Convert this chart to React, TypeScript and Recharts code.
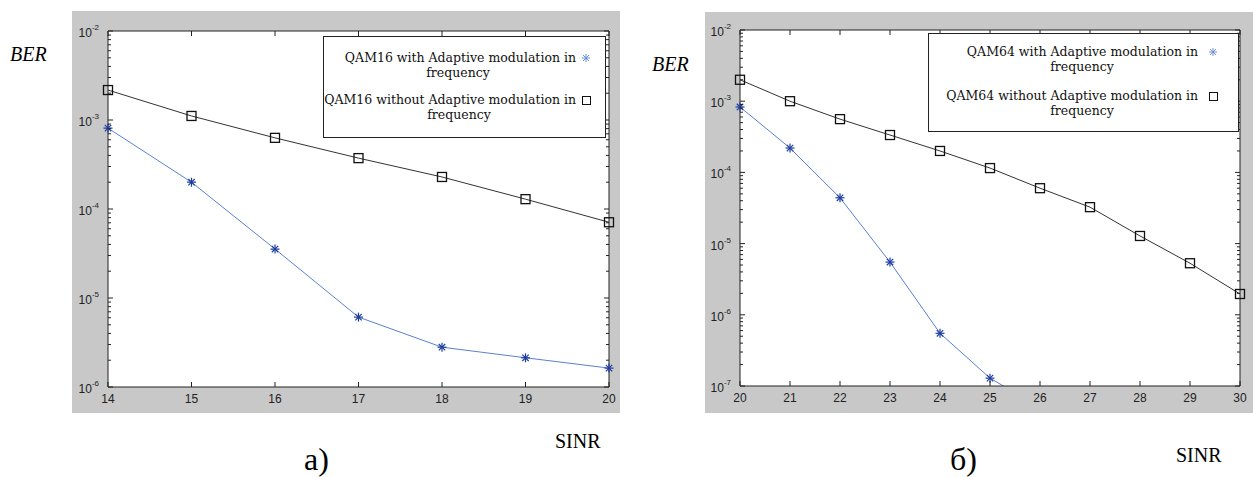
import { CartesianGrid, Line, LineChart, XAxis, YAxis } from "recharts"

// panel a) QAM16
const sinrA = [14, 15, 16, 17, 18, 19, 20]
const qam16Adaptive = [8.1e-4, 2.0e-4, 3.55e-5, 6.1e-6, 2.8e-6, 2.13e-6, 1.63e-6]
const qam16Fixed = [2.17e-3, 1.11e-3, 6.3e-4, 3.73e-4, 2.29e-4, 1.29e-4, 7.1e-5]
const expA = [-6, -5, -4, -3, -2]

// panel б) QAM64
const sinrB = [20, 21, 22, 23, 24, 25, 26, 27, 28, 29, 30]
const qam64Adaptive = [8.3e-4, 2.2e-4, 4.4e-5, 5.5e-6, 5.5e-7, 1.29e-7, 5e-8, null, null, null, null]
const qam64Fixed = [2.0e-3, 1.0e-3, 5.6e-4, 3.35e-4, 2.0e-4, 1.15e-4, 6.0e-5, 3.25e-5, 1.28e-5, 5.3e-6, 1.96e-6]
const expB = [-7, -6, -5, -4, -3, -2]

const GRAY = "#c8c8c8"
const BLUE_LINE = "#5b80d0"
const BLUE_MARK = "#1d3c9e"
const BLACK = "#222"
const tickFont = "'Liberation Sans', Arial, sans-serif"
const serif = "'Liberation Serif', 'Times New Roman', serif"

function logTicks(exps: number[]) {
  const out: number[] = []
  exps.forEach((e, i) => {
    out.push(Math.pow(10, e))
    if (i < exps.length - 1) {
      for (let k = 2; k <= 9; k++) out.push(k * Math.pow(10, e))
    }
  })
  return out
}

function isDecade(v: number) {
  const l = Math.log10(v)
  return Math.abs(l - Math.round(l)) < 1e-6
}

function StarDot(props: any) {
  const { cx, cy, index } = props
  if (cx == null || cy == null || !isFinite(cy)) return <g key={index} />
  const r = 4.5
  const d = 3.2
  return (
    <g key={index} stroke={BLUE_MARK} strokeWidth={1.2}>
      <line x1={cx - r} y1={cy} x2={cx + r} y2={cy} />
      <line x1={cx} y1={cy - r} x2={cx} y2={cy + r} />
      <line x1={cx - d} y1={cy - d} x2={cx + d} y2={cy + d} />
      <line x1={cx - d} y1={cy + d} x2={cx + d} y2={cy - d} />
    </g>
  )
}

function SquareDot(props: any) {
  const { cx, cy, index } = props
  if (cx == null || cy == null || !isFinite(cy)) return <g key={index} />
  return <rect key={index} x={cx - 4.5} y={cy - 4.5} width={9} height={9} fill="none" stroke="#111" strokeWidth={1.3} />
}

function BottomTick(props: any) {
  const { x, y, payload } = props
  return (
    <g>
      <line x1={x} y1={y} x2={x} y2={y - 5} stroke={BLACK} />
      <text x={x} y={y + 16} textAnchor="middle" fontFamily={tickFont} fontSize={12} fill="#222">
        {payload.value}
      </text>
    </g>
  )
}

function TopTick(props: any) {
  const { x, y } = props
  return <line x1={x} y1={y} x2={x} y2={y + 5} stroke={BLACK} />
}

function LeftTick(props: any) {
  const { x, y, payload } = props
  const major = isDecade(payload.value)
  const exp = Math.round(Math.log10(payload.value))
  return (
    <g>
      <line x1={x} y1={y} x2={x + (major ? 5 : 3)} y2={y} stroke={BLACK} />
      {major && (
        <text x={x - 9} y={y + 6} textAnchor="end" fontFamily={tickFont} fontSize={12} fill="#222">
          10
          <tspan dx={0} dy={-7} fontSize={8}>
            {exp}
          </tspan>
        </text>
      )}
    </g>
  )
}

function RightTick(props: any) {
  const { x, y, payload } = props
  const major = isDecade(payload.value)
  return <line x1={x} y1={y} x2={x - (major ? 5 : 3)} y2={y} stroke={BLACK} />
}

interface PanelProps {
  sinr: number[]
  adaptive: (number | null)[]
  fixed: number[]
  exps: number[]
  width: number
  height: number
  pad: { top: number; right: number; bottom: number; left: number }
}

function Panel({ sinr, adaptive, fixed, exps, width, height, pad }: PanelProps) {
  const data = sinr.map((x, i) => ({ x, adaptive: adaptive[i], fixed: fixed[i] }))
  const yTicks = logTicks(exps)
  const yDomain = [Math.pow(10, exps[0]), Math.pow(10, exps[exps.length - 1])]
  const xDomain = [sinr[0], sinr[sinr.length - 1]]
  return (
    <LineChart width={width} height={height} data={data} margin={{ top: 0, right: 0, bottom: 0, left: 0 }}>
      <CartesianGrid horizontal={false} vertical={false} fill="#fff" stroke="none" />
      <XAxis
        xAxisId="b"
        dataKey="x"
        type="number"
        domain={xDomain}
        ticks={sinr}
        height={pad.bottom}
        tickSize={0}
        tickMargin={0}
        axisLine={{ stroke: BLACK }}
        tickLine={false}
        tick={BottomTick}
        interval={0}
      />
      <XAxis
        xAxisId="t"
        orientation="top"
        dataKey="x"
        type="number"
        domain={xDomain}
        ticks={sinr}
        height={pad.top}
        tickSize={0}
        tickMargin={0}
        axisLine={{ stroke: BLACK }}
        tickLine={false}
        tick={TopTick}
        interval={0}
      />
      <YAxis
        yAxisId="l"
        type="number"
        scale="log"
        domain={yDomain}
        allowDataOverflow
        ticks={yTicks}
        width={pad.left}
        tickSize={0}
        tickMargin={0}
        axisLine={{ stroke: BLACK }}
        tickLine={false}
        tick={LeftTick}
        interval={0}
      />
      <YAxis
        yAxisId="r"
        orientation="right"
        type="number"
        scale="log"
        domain={yDomain}
        allowDataOverflow
        ticks={yTicks}
        width={pad.right}
        tickSize={0}
        tickMargin={0}
        axisLine={{ stroke: BLACK }}
        tickLine={false}
        tick={RightTick}
        interval={0}
      />
      <Line
        xAxisId="b"
        yAxisId="l"
        dataKey="fixed"
        stroke="#333"
        strokeWidth={1}
        dot={SquareDot}
        activeDot={false}
        isAnimationActive={false}
      />
      <Line
        xAxisId="b"
        yAxisId="l"
        dataKey="adaptive"
        stroke={BLUE_LINE}
        strokeWidth={1}
        dot={StarDot}
        activeDot={false}
        isAnimationActive={false}
      />
    </LineChart>
  )
}

function LegendStar({ left, top }: { left: number; top: number }) {
  return (
    <svg style={{ position: "absolute", left: left - 5, top: top - 5 }} width={10} height={10}>
      <g stroke="#6f8fd8" strokeWidth={1}>
        <line x1={1} y1={5} x2={9} y2={5} />
        <line x1={5} y1={1} x2={5} y2={9} />
        <line x1={2} y1={2} x2={8} y2={8} />
        <line x1={2} y1={8} x2={8} y2={2} />
      </g>
    </svg>
  )
}

function LegendSquare({ left, top }: { left: number; top: number }) {
  return (
    <div
      style={{
        position: "absolute",
        left: left - 4,
        top: top - 4,
        width: 7,
        height: 7,
        border: "1px solid #111",
      }}
    />
  )
}

function LegendEntry({
  line1,
  left,
  right,
  top,
  freqCenter,
}: {
  line1: string
  left: number
  right: number
  top: number
  freqCenter: number
}) {
  const textStyle: React.CSSProperties = {
    position: "absolute",
    fontFamily: "'DejaVu Serif', serif",
    fontSize: 12.5,
    color: "#111",
    whiteSpace: "nowrap",
    lineHeight: "14px",
  }
  return (
    <>
      <div style={{ ...textStyle, left, width: right - left, top: top - 7, textAlign: "right" }}>{line1}</div>
      <div style={{ ...textStyle, left: freqCenter - 60, width: 120, top: top + 8, textAlign: "center" }}>frequency</div>
    </>
  )
}

export default function App() {
  return (
    <div style={{ position: "absolute", left: 0, top: 0, width: 1253, height: 477, background: "#fff", overflow: "hidden" }}>
      {/* panel a */}
      <div style={{ position: "absolute", left: 72, top: 11, width: 548, height: 402, background: GRAY }}>
        <Panel
          sinr={sinrA}
          adaptive={qam16Adaptive}
          fixed={qam16Fixed}
          exps={expA}
          width={548}
          height={402}
          pad={{ top: 20, right: 11, bottom: 26, left: 36 }}
        />
      </div>
      <div
        style={{
          position: "absolute",
          left: 323,
          top: 36,
          width: 281,
          height: 100,
          background: "#fff",
          border: "1px solid #222",
        }}
      />
      <LegendEntry line1="QAM16  with Adaptive modulation in" left={300} right={576} top={58} freqCenter={458} />
      <LegendEntry line1="QAM16 without Adaptive modulation in" left={300} right={576} top={100} freqCenter={459} />
      <LegendStar left={586} top={58} />
      <LegendSquare left={586} top={100} />

      {/* panel б */}
      <div style={{ position: "absolute", left: 705, top: 12, width: 548, height: 401, background: GRAY }}>
        <Panel
          sinr={sinrB}
          adaptive={qam64Adaptive}
          fixed={qam64Fixed}
          exps={expB}
          width={548}
          height={401}
          pad={{ top: 18, right: 13, bottom: 27, left: 35 }}
        />
      </div>
      <div
        style={{
          position: "absolute",
          left: 928,
          top: 33,
          width: 309,
          height: 97,
          background: "#fff",
          border: "1px solid #222",
        }}
      />
      <LegendEntry line1="QAM64 with Adaptive modulation in" left={900} right={1198} top={52} freqCenter={1082} />
      <LegendEntry line1="QAM64 without Adaptive modulation in" left={900} right={1198} top={96} freqCenter={1082} />
      <LegendStar left={1213} top={52} />
      <LegendSquare left={1213} top={96} />

      {/* outer labels */}
      <div style={{ position: "absolute", left: 10, top: 43, fontFamily: serif, fontStyle: "italic", fontSize: 20 }}>BER</div>
      <div style={{ position: "absolute", left: 652, top: 53, fontFamily: serif, fontStyle: "italic", fontSize: 20 }}>BER</div>
      <div style={{ position: "absolute", left: 555, top: 430, fontFamily: serif, fontSize: 20 }}>SINR</div>
      <div style={{ position: "absolute", left: 1176, top: 444, fontFamily: serif, fontSize: 20 }}>SINR</div>
      <div style={{ position: "absolute", left: 304, top: 440, fontFamily: serif, fontSize: 32, lineHeight: "38px" }}>а)</div>
      <div style={{ position: "absolute", left: 950, top: 440, fontFamily: serif, fontSize: 32, lineHeight: "38px" }}>б)</div>
    </div>
  )
}
